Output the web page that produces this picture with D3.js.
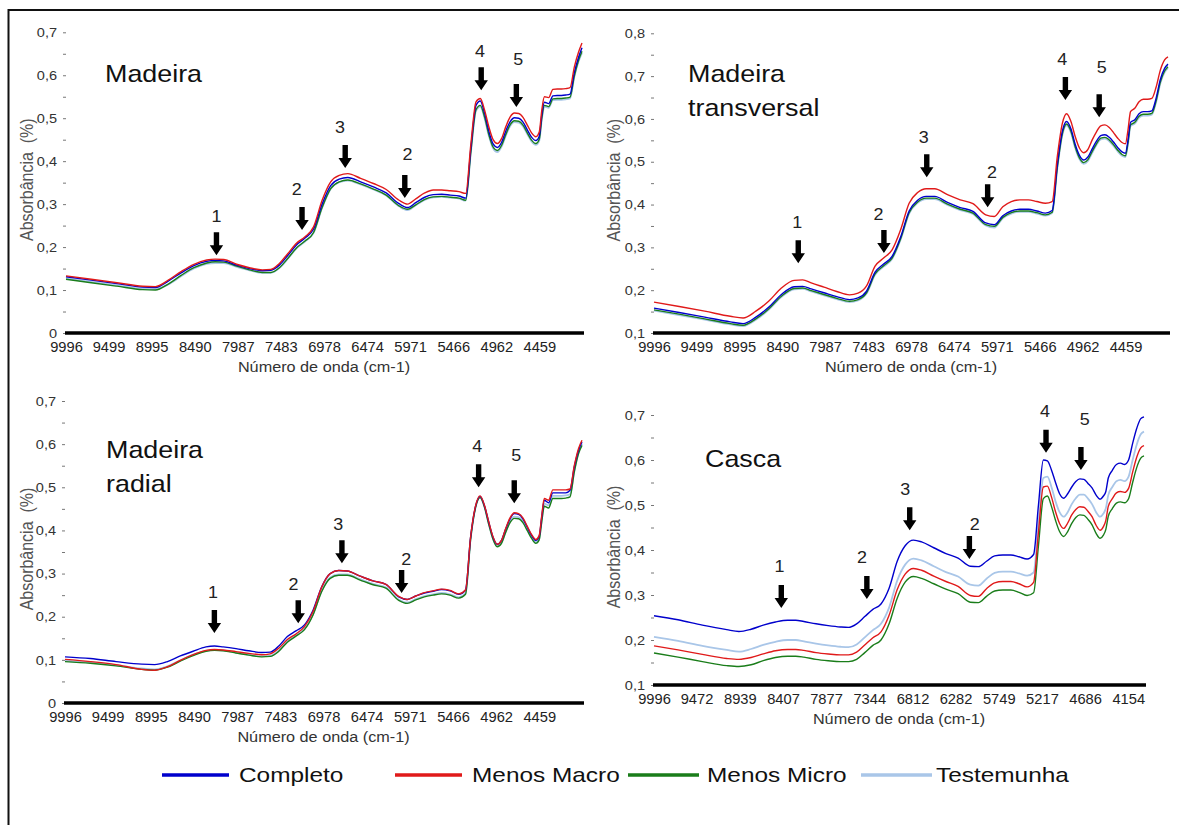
<!DOCTYPE html>
<html><head><meta charset="utf-8">
<script src="https://cdn.jsdelivr.net/npm/d3@7"></script>
<style>
body{margin:0;background:#fff}
svg{display:block}
text{font-family:"Liberation Sans",Arial,Helvetica,sans-serif}
</style>
</head><body>
<svg id="chart" width="1179" height="825"></svg>
<script>
// ---------- DATA ----------
const wavenumbers = [9996,9700,9400,9100,8950,8800,8650,8500,8350,8250,
  8150,8000,7850,7700,7600,7500,7400,7300,7200,7100,
  7000,6900,6800,6700,6550,6400,6250,6100,6000,5900,
  5800,5700,5600,5500,5400,5320,5260,5200,5150,5100,
  5050,5000,4950,4900,4850,4800,4750,4700,4650,4600,
  4550,4500,4460,4430,4400,4350,4300,4250,4200,4150,
  4100,4050,4000,3960];

const seriesNames = ["Completo","Menos Macro","Menos Micro","Testemunha"];

// Madeira
const madeiraCompleto = [0.131,0.123,0.115,0.107,0.106,0.121,0.140,0.157,0.167,0.169,
  0.168,0.158,0.150,0.145,0.146,0.158,0.181,0.205,0.221,0.242,
  0.300,0.343,0.358,0.362,0.352,0.340,0.326,0.301,0.292,0.304,
  0.316,0.322,0.323,0.321,0.319,0.314,0.430,0.530,0.540,0.512,
  0.470,0.440,0.432,0.444,0.471,0.492,0.501,0.500,0.491,0.473,
  0.456,0.448,0.458,0.508,0.537,0.534,0.552,0.553,0.553,0.554,
  0.556,0.606,0.642,0.664];
const madeiraMenosMacro = [0.133,0.125,0.117,0.109,0.108,0.123,0.143,0.160,0.170,0.172,
  0.171,0.160,0.152,0.147,0.148,0.162,0.185,0.209,0.224,0.247,
  0.309,0.352,0.367,0.371,0.360,0.348,0.334,0.309,0.300,0.313,
  0.326,0.333,0.333,0.331,0.329,0.325,0.440,0.538,0.546,0.519,
  0.480,0.450,0.441,0.453,0.481,0.503,0.512,0.511,0.502,0.484,
  0.466,0.457,0.468,0.519,0.550,0.548,0.567,0.568,0.568,0.569,
  0.571,0.619,0.654,0.675];
const madeiraMenosMicro = [0.125,0.117,0.109,0.101,0.100,0.114,0.134,0.152,0.163,0.166,
  0.165,0.156,0.147,0.141,0.141,0.152,0.174,0.198,0.214,0.234,
  0.292,0.336,0.352,0.356,0.347,0.335,0.321,0.296,0.288,0.299,
  0.311,0.317,0.318,0.316,0.314,0.309,0.422,0.520,0.530,0.503,
  0.462,0.433,0.425,0.437,0.463,0.485,0.494,0.493,0.484,0.466,
  0.449,0.441,0.451,0.500,0.530,0.527,0.545,0.546,0.546,0.547,
  0.549,0.598,0.635,0.656];
const madeiraTestemunha = [0.127,0.119,0.111,0.103,0.102,0.113,0.132,0.150,0.161,0.163,
  0.163,0.154,0.146,0.140,0.140,0.151,0.173,0.197,0.213,0.233,
  0.291,0.335,0.351,0.355,0.346,0.334,0.320,0.295,0.286,0.298,
  0.310,0.316,0.317,0.315,0.313,0.308,0.420,0.517,0.527,0.500,
  0.459,0.430,0.421,0.434,0.460,0.482,0.491,0.490,0.481,0.463,
  0.446,0.438,0.448,0.497,0.527,0.524,0.542,0.543,0.543,0.544,
  0.546,0.596,0.632,0.652];

// Madeira transversal
const transversalCompleto = [0.158,0.148,0.137,0.126,0.122,0.137,0.160,0.190,0.208,0.209,
  0.203,0.194,0.185,0.178,0.182,0.198,0.242,0.261,0.279,0.324,
  0.385,0.410,0.419,0.419,0.405,0.393,0.384,0.357,0.353,0.374,
  0.385,0.389,0.389,0.385,0.380,0.386,0.492,0.572,0.594,0.577,
  0.541,0.515,0.504,0.511,0.530,0.548,0.561,0.563,0.557,0.546,
  0.533,0.523,0.520,0.550,0.592,0.598,0.612,0.617,0.617,0.619,
  0.648,0.692,0.718,0.728];
const transversalMenosMacro = [0.172,0.162,0.151,0.139,0.135,0.151,0.174,0.205,0.223,0.224,
  0.217,0.207,0.197,0.189,0.193,0.210,0.256,0.275,0.294,0.341,
  0.403,0.428,0.437,0.437,0.423,0.411,0.402,0.376,0.372,0.395,
  0.407,0.411,0.411,0.407,0.403,0.407,0.512,0.590,0.612,0.594,
  0.559,0.532,0.521,0.529,0.551,0.570,0.584,0.586,0.580,0.568,
  0.555,0.545,0.542,0.574,0.617,0.625,0.640,0.646,0.646,0.648,
  0.674,0.714,0.738,0.745];
const transversalMenosMicro = [0.154,0.144,0.133,0.122,0.118,0.133,0.156,0.186,0.204,0.205,
  0.199,0.190,0.181,0.174,0.178,0.194,0.238,0.257,0.275,0.320,
  0.381,0.406,0.415,0.415,0.401,0.389,0.380,0.353,0.349,0.370,
  0.381,0.385,0.385,0.381,0.376,0.382,0.486,0.566,0.588,0.571,
  0.535,0.509,0.498,0.505,0.524,0.542,0.555,0.557,0.551,0.540,
  0.527,0.517,0.514,0.544,0.586,0.592,0.606,0.611,0.611,0.613,
  0.642,0.686,0.712,0.722];
const transversalTestemunha = [0.152,0.142,0.131,0.120,0.116,0.131,0.154,0.184,0.202,0.203,
  0.197,0.188,0.179,0.172,0.176,0.192,0.236,0.255,0.273,0.318,
  0.379,0.404,0.413,0.413,0.399,0.387,0.378,0.351,0.346,0.368,
  0.379,0.383,0.383,0.379,0.374,0.380,0.484,0.563,0.585,0.568,
  0.532,0.506,0.495,0.502,0.521,0.539,0.552,0.554,0.548,0.537,
  0.524,0.514,0.511,0.541,0.583,0.589,0.603,0.608,0.608,0.610,
  0.639,0.683,0.709,0.719];

// Madeira radial
const radialCompleto = [0.107,0.103,0.096,0.090,0.089,0.096,0.109,0.120,0.130,0.132,
  0.130,0.126,0.121,0.117,0.118,0.132,0.154,0.167,0.181,0.215,
  0.269,0.300,0.307,0.306,0.294,0.283,0.275,0.246,0.240,0.248,
  0.255,0.259,0.263,0.260,0.252,0.262,0.385,0.458,0.479,0.458,
  0.420,0.385,0.368,0.377,0.404,0.427,0.439,0.437,0.427,0.408,
  0.389,0.377,0.386,0.431,0.470,0.464,0.487,0.487,0.487,0.487,
  0.493,0.547,0.586,0.605];
const radialMenosMacro = [0.101,0.096,0.089,0.078,0.076,0.084,0.099,0.112,0.122,0.124,
  0.123,0.119,0.115,0.112,0.114,0.127,0.147,0.160,0.177,0.212,
  0.268,0.300,0.307,0.306,0.294,0.283,0.275,0.247,0.240,0.248,
  0.256,0.260,0.264,0.261,0.253,0.262,0.386,0.459,0.480,0.459,
  0.421,0.386,0.368,0.377,0.405,0.429,0.441,0.439,0.429,0.410,
  0.391,0.379,0.388,0.434,0.474,0.470,0.494,0.494,0.494,0.494,
  0.496,0.550,0.590,0.609];
const radialMenosMicro = [0.096,0.092,0.086,0.078,0.076,0.083,0.097,0.110,0.120,0.122,
  0.121,0.116,0.111,0.107,0.108,0.120,0.141,0.155,0.170,0.204,
  0.258,0.289,0.296,0.296,0.285,0.274,0.266,0.238,0.231,0.239,
  0.246,0.250,0.253,0.250,0.243,0.252,0.380,0.455,0.476,0.455,
  0.415,0.380,0.362,0.370,0.396,0.418,0.428,0.427,0.418,0.400,
  0.382,0.370,0.378,0.420,0.456,0.452,0.474,0.474,0.474,0.475,
  0.478,0.535,0.578,0.597];
const radialTestemunha = [0.098,0.094,0.088,0.080,0.078,0.085,0.099,0.112,0.121,0.123,
  0.122,0.117,0.112,0.108,0.109,0.121,0.143,0.157,0.172,0.206,
  0.260,0.291,0.298,0.298,0.287,0.276,0.268,0.240,0.233,0.241,
  0.248,0.252,0.255,0.252,0.245,0.254,0.382,0.456,0.477,0.456,
  0.417,0.382,0.364,0.372,0.399,0.421,0.432,0.431,0.421,0.403,
  0.385,0.373,0.381,0.425,0.462,0.458,0.480,0.480,0.480,0.481,
  0.484,0.540,0.582,0.601];

// Casca
const cascaCompleto = [0.254,0.245,0.233,0.223,0.219,0.224,0.233,0.240,0.244,0.244,
  0.241,0.236,0.232,0.229,0.228,0.236,0.252,0.268,0.280,0.315,
  0.375,0.410,0.422,0.418,0.405,0.392,0.382,0.364,0.363,0.375,
  0.387,0.389,0.389,0.385,0.380,0.390,0.500,0.600,0.598,0.578,
  0.550,0.525,0.515,0.525,0.540,0.552,0.558,0.557,0.548,0.538,
  0.522,0.513,0.520,0.530,0.560,0.577,0.590,0.593,0.590,0.600,
  0.637,0.670,0.692,0.696];
const cascaMenosMacro = [0.187,0.178,0.168,0.159,0.157,0.161,0.169,0.176,0.179,0.179,
  0.177,0.172,0.169,0.167,0.167,0.173,0.189,0.205,0.218,0.255,
  0.312,0.347,0.359,0.355,0.342,0.330,0.319,0.299,0.297,0.314,
  0.327,0.330,0.330,0.325,0.318,0.328,0.440,0.540,0.542,0.518,
  0.485,0.459,0.448,0.460,0.478,0.490,0.496,0.495,0.486,0.474,
  0.455,0.444,0.452,0.466,0.497,0.514,0.527,0.530,0.528,0.537,
  0.573,0.606,0.627,0.632];
const cascaMenosMicro = [0.171,0.162,0.152,0.143,0.141,0.145,0.154,0.161,0.164,0.164,
  0.162,0.157,0.154,0.152,0.152,0.157,0.172,0.188,0.200,0.236,
  0.293,0.329,0.341,0.337,0.325,0.313,0.303,0.284,0.283,0.297,
  0.309,0.311,0.311,0.306,0.299,0.305,0.410,0.514,0.520,0.497,
  0.466,0.441,0.430,0.441,0.459,0.472,0.478,0.477,0.468,0.456,
  0.437,0.426,0.433,0.446,0.475,0.492,0.504,0.507,0.505,0.514,
  0.550,0.583,0.604,0.609];
const cascaTestemunha = [0.207,0.198,0.187,0.178,0.174,0.180,0.189,0.196,0.200,0.200,
  0.197,0.192,0.188,0.185,0.184,0.190,0.206,0.222,0.236,0.272,
  0.332,0.368,0.381,0.377,0.364,0.351,0.341,0.323,0.321,0.336,
  0.349,0.352,0.352,0.348,0.343,0.350,0.460,0.560,0.563,0.540,
  0.508,0.484,0.474,0.484,0.502,0.515,0.523,0.523,0.514,0.502,
  0.484,0.474,0.481,0.493,0.522,0.540,0.553,0.556,0.553,0.563,
  0.600,0.634,0.657,0.663];

// tick labels
const xTicksMadeira = [9996,9499,8995,8490,7987,7483,6978,6474,5971,5466,4962,4459];
const xTicksCasca = [9996,9472,8939,8407,7877,7344,6812,6282,5749,5217,4686,4154];
const yTicksFrom0 = [0,0.1,0.2,0.3,0.4,0.5,0.6,0.7];
const yTicksTransversal = [0.1,0.2,0.3,0.4,0.5,0.6,0.7,0.8];
const yTicksCasca = [0.1,0.2,0.3,0.4,0.5,0.6,0.7];

// annotated bands: [label, arrow wavenumber, arrow tip value, label wavenumber, label baseline value]
const annMadeira = [["1",8236,0.181,8236,0.258],["2",7235,0.240,7297,0.321],["3",6730,0.384,6792,0.465],
  ["2",6033,0.314,6001,0.402],["4",5139,0.565,5152,0.642],["5",4728,0.526,4705,0.623]];
const annTransversal = [["1",8302,0.263,8314,0.345],["2",7296,0.287,7360,0.364],["3",6793,0.464,6830,0.543],
  ["2",6078,0.394,6027,0.462],["4",5165,0.644,5201,0.725],["5",4768,0.604,4738,0.707]];
const annRadial = [["1",8252,0.162,8267,0.243],["2",7273,0.185,7329,0.262],["3",6763,0.324,6806,0.400],
  ["2",6066,0.255,6011,0.319],["4",5167,0.500,5184,0.581],["5",4751,0.463,4728,0.562]];
const annCasca = [["1",8428,0.271,8451,0.351],["2",7374,0.291,7434,0.371],["3",6846,0.444,6902,0.522],
  ["2",6111,0.380,6046,0.444],["4",5167,0.616,5181,0.696],["5",4737,0.578,4691,0.678]];

// ---------- STYLE / LAYOUT ----------
const colors = ["#0000cc","#e01a1a","#1a7d1a","#a9c6e8"];
const drawOrder = [3,2,0,1];
const SX = 1.12; // horizontal text stretch of the original picture

const panels = [
  {title:["Madeira"], tx:105, ty:82,
   series:[madeiraCompleto,madeiraMenosMacro,madeiraMenosMicro,madeiraTestemunha],
   xTicks:xTicksMadeira, yTicks:yTicksFrom0, yDomain:[0,0.7],
   xRange:[66,582], yRange:[333,32.3], yTitleX:27, ann:annMadeira},
  {title:["Madeira","transversal"], tx:688, ty:82,
   series:[transversalCompleto,transversalMenosMacro,transversalMenosMicro,transversalTestemunha],
   xTicks:xTicksMadeira, yTicks:yTicksTransversal, yDomain:[0.1,0.8],
   xRange:[654,1168], yRange:[333,33.3], yTitleX:614, ann:annTransversal},
  {title:["Madeira","radial"], tx:106, ty:458,
   series:[radialCompleto,radialMenosMacro,radialMenosMicro,radialTestemunha],
   xTicks:xTicksMadeira, yTicks:yTicksFrom0, yDomain:[0,0.7],
   xRange:[65,582], yRange:[703,401], yTitleX:27, ann:annRadial},
  {title:["Casca"], tx:705, ty:467,
   series:[cascaCompleto,cascaMenosMacro,cascaMenosMicro,cascaTestemunha],
   xTicks:xTicksCasca, yTicks:yTicksCasca, yDomain:[0.1,0.7],
   xRange:[654,1144], yRange:[685,415], yTitleX:614, ann:annCasca}
];

const svg = d3.select("#chart");
svg.append("rect").attr("width",1179).attr("height",825).attr("fill","#fff");
// frame (top and left edges)
svg.append("path").attr("d","M8.5,825V10H1179").attr("fill","none")
  .attr("stroke","#111").attr("stroke-width",2);

const fmtY = d => d === 0 ? "0" : d3.format(".1f")(d).replace(".", ",");

panels.forEach(p => {
  const g = svg.append("g");
  const x = d3.scaleLinear().domain([9996,3960]).range(p.xRange);
  const y = d3.scaleLinear().domain(p.yDomain).range(p.yRange);
  const y0 = p.yRange[0];

  // y axis: labelled major ticks and small minor marks
  const minor = p.yTicks.slice(0,-1).map(v => +(v+0.05).toFixed(2));
  const allY = p.yTicks.concat(minor).sort((a,b)=>a-b);
  const majorSet = new Set(p.yTicks.map(v=>v.toFixed(2)));
  const yAxis = g.append("g").attr("transform",`translate(${p.xRange[0]},0)`)
    .call(d3.axisLeft(y).tickValues(allY).tickSize(3).tickPadding(5)
      .tickFormat(d => majorSet.has(d.toFixed(2)) ? fmtY(d) : ""));
  yAxis.select(".domain").remove();
  yAxis.selectAll(".tick line").attr("stroke","#777").attr("stroke-width",1);
  yAxis.selectAll(".tick text").attr("fill","#333").style("font-size","13px")
    .attr("transform",`scale(${SX},1)`);

  // y title
  g.append("text")
    .attr("transform",`translate(${p.yTitleX},${(p.yRange[0]+p.yRange[1])/2-3}) rotate(-90) scale(1,${SX})`)
    .attr("text-anchor","middle").attr("dy","0.35em")
    .style("font-size","16px").style("white-space","pre").attr("fill","#555")
    .text("Absorbância  (%)");

  // series curves
  const line = d3.line()
    .defined(d => d != null)
    .x((d,i) => x(wavenumbers[i]))
    .y(d => y(d))
    .curve(d3.curveMonotoneX);
  drawOrder.forEach(si => {
    g.append("path").datum(p.series[si])
      .attr("d", line).attr("fill","none")
      .attr("stroke", colors[si]).attr("stroke-width", si===3 ? 1.8 : 1.4)
      .attr("stroke-linejoin","round");
  });

  // x axis
  const xAxis = g.append("g").attr("transform",`translate(0,${y0})`)
    .call(d3.axisBottom(x).tickValues(p.xTicks).tickSize(0).tickSizeOuter(0).tickPadding(9)
      .tickFormat(d => String(d)));
  xAxis.select(".domain").attr("stroke","#000").attr("stroke-width",3.4)
    .attr("d",`M${p.xRange[0]-1},0H${p.xRange[1]+2}`);
  xAxis.selectAll(".tick text").attr("fill","#222").style("font-size","14px")
    .attr("transform",`scale(1.05,1)`);

  // x title
  g.append("text")
    .attr("transform",`translate(${(p.xRange[0]+p.xRange[1])/2},${y0+39}) scale(${SX},1)`)
    .attr("text-anchor","middle").style("font-size","14.5px").attr("fill","#333")
    .text("Número de onda (cm-1)");

  // panel title
  p.title.forEach((t,k) => {
    g.append("text")
      .attr("transform",`translate(${p.tx},${p.ty + k*33.5}) scale(${SX},1)`)
      .style("font-size","24px").attr("fill","#111").text(t);
  });

  // arrows and band labels
  p.ann.forEach(a => {
    const ax = x(a[1]), ay = y(a[2]);
    g.append("path")
      .attr("d",`M${ax-2.7},${ay-23}h5.4v13h4l-6.7,10l-6.7,-10h4z`)
      .attr("fill","#000");
    g.append("text")
      .attr("transform",`translate(${x(a[3])},${y(a[4])}) scale(${SX},1)`)
      .attr("text-anchor","middle").style("font-size","16px").attr("fill","#222")
      .text(a[0]);
  });
});

// legend
const legendX = [[162,229,239],[395,462,472],[628,699,707],[861,932,936]];
const legY = 775;
seriesNames.forEach((name,i) => {
  const lx = legendX[i];
  svg.append("line").attr("x1",lx[0]).attr("x2",lx[1]).attr("y1",legY).attr("y2",legY)
    .attr("stroke",colors[i]).attr("stroke-width",3.5);
  svg.append("text")
    .attr("transform",`translate(${lx[2]},${legY+7}) scale(1.22,1)`)
    .style("font-size","20px").attr("fill","#111").text(name);
});
</script>
</body></html>
